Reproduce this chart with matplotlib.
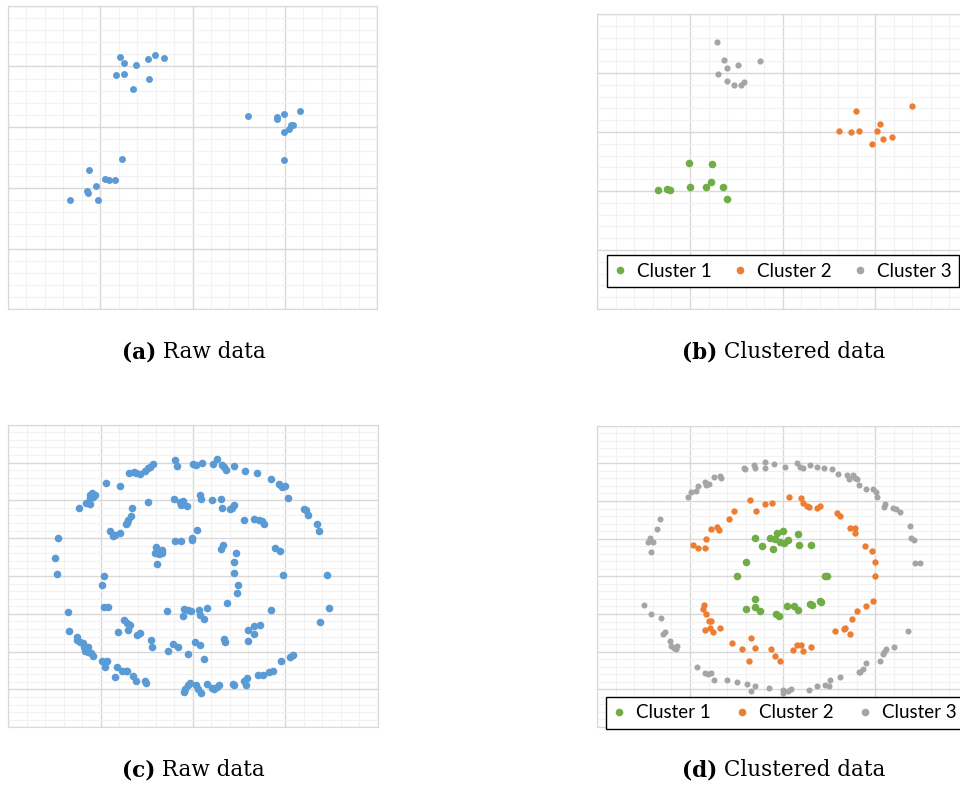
import numpy as np
import matplotlib.pyplot as plt
from matplotlib.lines import Line2D
from matplotlib.ticker import MultipleLocator

BLUE = '#5B9BD5'
GREEN = '#70AD47'
ORANGE = '#ED7D31'
GRAY = '#A5A5A5'

# (a) raw data, three blobs
a_x = [1.21, 1.26, 1.39, 1.52, 1.59, 1.69, 1.17, 1.26, 1.53, 1.35,
       2.60, 2.92, 2.92, 2.99, 3.16, 2.99, 3.05, 3.07, 3.09, 2.99,
       1.24, 0.88, 1.05, 1.10, 1.16, 0.95, 0.86, 0.87, 0.67, 0.98]
a_y = [4.15, 4.06, 4.02, 4.12, 4.19, 4.14, 3.86, 3.87, 3.80, 3.62,
       3.18, 3.17, 3.14, 3.22, 3.26, 2.92, 2.97, 3.03, 3.04, 2.46,
       2.48, 2.29, 2.14, 2.13, 2.13, 2.03, 1.95, 1.91, 1.80, 1.80]

# (b) clustered blobs
b1_x = [0.99, 1.24, 0.66, 0.75, 0.78, 1.00, 1.17, 1.23, 1.36, 1.40]
b1_y = [2.47, 2.45, 2.01, 2.03, 2.01, 2.07, 2.07, 2.16, 2.07, 1.86]
b2_x = [2.79, 3.40, 2.61, 2.74, 2.82, 3.02, 3.05, 3.08, 3.18, 2.96]
b2_y = [3.35, 3.44, 3.01, 3.00, 3.02, 3.02, 3.14, 2.88, 2.91, 2.80]
b3_x = [1.29, 1.37, 1.40, 1.52, 1.76, 1.30, 1.40, 1.48, 1.55, 1.58]
b3_y = [4.52, 4.22, 4.08, 4.13, 4.21, 3.98, 3.87, 3.79, 3.79, 3.85]

# (c) raw data, three rings
c_outer_x = [1.31, 1.36, 1.38, 1.43, 1.48, 1.51, 1.54, 1.57, 1.81, 1.83, 2.00, 2.03, 2.10,
             2.22, 2.26, 2.31, 2.34, 2.36, 2.44, 2.56, 2.69, 2.84, 2.93, 2.96, 3.00, 3.03,
             3.20, 3.22, 3.25, 3.34, 3.37,
             1.06, 1.21, 0.88, 0.91, 0.94, 0.89, 0.92, 0.86, 0.88, 0.84, 0.77, 0.54, 0.51, 0.53,
             3.45, 3.47, 3.38, 3.05, 3.08, 2.95,
             2.87, 2.82, 2.76, 2.70, 2.59, 2.55, 2.57, 2.44, 2.43, 2.28, 2.26, 2.23, 2.21, 2.15,
             2.09, 2.06, 2.03, 1.97, 1.95, 1.91, 1.90,
             0.65, 0.66, 0.74, 0.74, 0.78, 0.81, 0.82, 0.86, 0.83, 0.86, 0.90, 0.92, 1.02, 1.07,
             1.05, 1.18, 1.16, 1.23, 1.27, 1.29, 1.35, 1.38, 1.48, 1.49]
c_outer_y = [6.73, 6.76, 6.71, 6.70, 6.78, 6.85, 6.89, 6.95, 7.07, 6.90, 6.96, 6.94, 6.98,
             6.95, 7.10, 6.94, 6.89, 6.81, 6.90, 6.78, 6.73, 6.56, 6.43, 6.36, 6.37, 6.07,
             5.76, 5.74, 5.62, 5.37, 5.18,
             6.47, 6.38, 6.15, 6.19, 6.14, 6.06, 6.10, 5.94, 5.90, 5.92, 5.80, 5.00, 4.48, 4.04,
             4.03, 3.16, 2.78, 1.85, 1.91, 1.76,
             1.50, 1.45, 1.38, 1.39, 1.30, 1.23, 1.13, 1.11, 1.15, 1.11, 1.06, 1.01, 1.04, 1.15,
             0.92, 1.01, 1.13, 1.16, 1.13, 1.01, 0.93,
             3.06, 2.54, 2.39, 2.31, 2.26, 2.23, 2.13, 2.11, 2.03, 1.99, 1.96, 1.89, 1.76, 1.74,
             1.60, 1.60, 1.34, 1.50, 1.48, 1.48, 1.35, 1.23, 1.23, 1.17]
c_mid_x = [1.51, 1.34, 1.33, 1.30, 1.27, 1.29, 1.10, 1.13, 1.16, 1.21,
           1.80, 1.86, 1.89, 1.87, 1.94, 2.08, 2.09, 2.21, 2.30, 2.31, 2.40, 2.44, 2.42,
           2.55, 2.66, 2.71, 2.75, 2.77, 2.89, 2.94, 2.98, 2.85,
           1.04, 1.08, 1.01, 1.04,
           1.19, 1.25, 1.29, 1.32, 1.30, 1.39, 1.43, 1.55, 1.56, 1.73, 1.78, 1.84, 1.95,
           2.02, 2.08, 2.12, 2.34, 2.35, 2.60, 2.66, 2.73, 2.66, 2.60]
c_mid_y = [5.95, 5.79, 5.59, 5.48, 5.37, 5.41, 5.20, 5.05, 5.08, 5.14,
           6.03, 5.96, 5.97, 5.89, 5.84, 6.13, 6.04, 6.02, 6.04, 5.80, 5.78, 5.87, 5.80,
           5.48, 5.52, 5.48, 5.45, 5.37, 4.75, 4.65, 4.03, 3.11,
           3.18, 3.17, 3.75, 4.00,
           2.53, 2.84, 2.75, 2.70, 2.57, 2.45, 2.48, 2.32, 2.11, 2.03, 2.19, 2.13, 1.93,
           2.25, 2.17, 1.80, 2.34, 2.26, 2.57, 2.69, 2.71, 2.46, 2.27]
c_inner_x = [1.60, 1.66, 1.59, 1.63, 1.66, 1.61, 1.81, 1.87, 1.99, 1.99, 2.04,
             2.30, 2.33, 2.47, 2.45, 2.45, 2.49, 2.48, 2.37, 2.15, 2.07, 2.08, 2.12,
             1.72, 1.90, 1.95, 1.98, 1.89]
c_inner_y = [4.76, 4.70, 4.62, 4.58, 4.60, 4.33, 4.93, 4.92, 5.01, 4.96, 5.21,
             4.72, 4.83, 4.62, 4.38, 4.09, 3.75, 3.54, 3.29, 3.16, 3.10, 2.98, 2.86,
             3.08, 3.14, 3.10, 3.08, 2.93]

# (d) clustered rings
d1_x = [1.70, 1.86, 1.94, 1.92, 1.78, 1.90, 1.60, 1.51,
        2.00, 1.97, 2.01, 2.06, 2.17, 2.18, 2.31, 2.48, 2.46,
        1.70, 1.70, 1.60, 1.76, 1.93, 1.96,
        2.05, 2.12, 2.17, 2.30, 2.32, 2.40, 2.41]
d1_y = [5.01, 5.01, 5.14, 4.99, 4.81, 4.72, 4.38, 4.02,
        5.20, 4.92, 4.88, 4.97, 5.12, 4.84, 4.82, 4.02, 4.02,
        3.39, 3.19, 3.12, 3.08, 2.99, 2.96,
        3.20, 3.22, 3.10, 3.27, 3.25, 3.35, 3.33]
d2_x = [1.65, 1.81, 1.88, 1.71, 1.48, 1.42, 1.23, 1.29, 1.31, 1.17, 1.03, 1.09, 1.16,
        2.07, 2.20, 2.22, 2.26, 2.28, 2.37, 2.40, 2.59, 2.62, 2.73, 2.78, 2.78, 2.89,
        2.96, 3.00, 3.00,
        1.15, 1.14, 1.17, 1.20, 1.23, 1.22, 1.25, 1.16, 1.32, 1.45, 1.56, 1.66, 1.70,
        1.64, 1.87, 1.92, 1.97,
        2.98, 2.90, 2.80, 2.75, 2.56, 2.66, 2.67, 2.73, 2.11, 2.15, 2.20, 2.22, 2.31]
d2_y = [6.04, 5.92, 5.95, 5.73, 5.73, 5.52, 5.27, 5.32, 5.24, 5.00, 4.84, 4.76, 4.76,
        6.10, 6.09, 5.96, 5.87, 5.84, 5.81, 5.87, 5.68, 5.61, 5.28, 5.28, 5.14, 4.81,
        4.67, 4.37, 4.02,
        3.24, 3.12, 2.99, 2.82, 2.82, 2.64, 2.53, 2.58, 2.62, 2.24, 2.07, 2.35, 2.09,
        1.76, 2.08, 1.89, 1.76,
        3.35, 3.21, 3.07, 2.88, 2.56, 2.61, 2.64, 2.47, 2.04, 2.18, 2.18, 2.03, 2.12]
d3_x = [1.58, 1.59, 1.69, 1.70, 1.81, 1.81, 1.91, 1.26, 1.32, 1.34, 1.20, 1.16, 1.17,
        1.09, 1.06, 1.01, 0.98, 0.68, 0.64, 0.57, 0.55, 0.60, 0.58,
        2.03, 2.15, 2.19, 2.22, 2.30, 2.37, 2.45, 2.53, 2.60, 2.69, 2.72, 2.76, 2.78,
        2.80, 2.82, 2.90, 2.97, 3.01, 3.02, 3.10, 3.09, 3.19, 3.22, 3.27, 3.37, 3.38,
        3.42, 3.43, 3.48,
        0.50, 0.58, 0.69, 0.71, 0.73, 0.78, 0.79, 0.83, 0.86, 0.85, 1.08, 1.16, 1.19,
        1.23, 1.26, 1.40, 1.51, 1.61, 1.70, 1.66, 1.85,
        3.35, 3.20, 3.11, 3.09, 3.08, 3.05, 2.90, 2.87, 2.84, 2.82, 2.62, 2.51, 2.50,
        2.46, 2.37, 2.28, 2.09, 2.06, 2.00, 2.00]
d3_y = [6.89, 6.86, 6.96, 6.89, 7.03, 6.89, 6.98, 6.65, 6.67, 6.60, 6.45, 6.50, 6.42,
        6.40, 6.26, 6.25, 6.12, 5.52, 5.26, 5.01, 4.90, 4.92, 4.65,
        6.90, 7.00, 6.91, 6.89, 6.96, 6.91, 6.88, 6.85, 6.72, 6.68, 6.58, 6.70, 6.62,
        6.58, 6.42, 6.33, 6.33, 6.25, 6.11, 5.93, 5.85, 5.82, 5.78, 5.70, 5.34, 5.03,
        4.97, 4.35, 4.36,
        3.25, 3.00, 2.90, 2.48, 2.53, 2.28, 2.15, 2.10, 2.14, 2.07, 1.58, 1.44, 1.41,
        1.44, 1.26, 1.26, 1.19, 1.14, 1.09, 0.96, 1.04,
        2.55, 2.12, 2.07, 1.98, 1.93, 1.74, 1.70, 1.54, 1.47, 1.45, 1.33, 1.26, 1.09,
        1.11, 1.10, 0.99, 1.00, 0.96, 0.99, 0.89]

labels = ['Cluster 1', 'Cluster 2', 'Cluster 3']


def setup(ax, ymax):
    ax.set_xlim(0, 4)
    ax.set_ylim(0, ymax)
    ax.xaxis.set_major_locator(MultipleLocator(1))
    ax.xaxis.set_minor_locator(MultipleLocator(0.2))
    ax.yaxis.set_major_locator(MultipleLocator(1))
    ax.yaxis.set_minor_locator(MultipleLocator(0.2))
    ax.grid(which='minor', color='#F2F2F2', lw=0.8)
    ax.grid(which='major', color='#D9D9D9', lw=1.0)
    ax.tick_params(which='both', length=0, labelbottom=False, labelleft=False)
    for s in ax.spines.values():
        s.set_color('#D9D9D9')
    ax.set_axisbelow(True)


def add_legend(ax, top, left, width):
    handles = [Line2D([], [], ls='', marker='o', color=c, markersize=4.5)
               for c in (GREEN, ORANGE, GRAY)]
    leg = ax.legend(handles, labels, loc='upper left', bbox_to_anchor=(left, 0, width, top),
                    mode='expand', ncol=3, fancybox=False, edgecolor='black', framealpha=1,
                    handlelength=0.6, handletextpad=0.6, borderpad=0.4, borderaxespad=0,
                    columnspacing=1.0, prop={'family': 'Lato', 'size': 13.5})
    leg.get_frame().set_linewidth(1.0)


fig = plt.figure(figsize=(9.6, 7.85), dpi=100)
W, H = 960, 785

ax_a = fig.add_axes([8 / W, 1 - 309.3 / H, 369 / W, 303.6 / H])
ax_b = fig.add_axes([597.3 / W, 1 - 309 / H, 370.7 / W, 295 / H])
ax_c = fig.add_axes([8.3 / W, 1 - 727.3 / H, 369.3 / W, 302.6 / H])
ax_d = fig.add_axes([597.3 / W, 1 - 727 / H, 370.7 / W, 301.3 / H])

setup(ax_a, 5)
setup(ax_b, 5)
setup(ax_c, 8)
setup(ax_d, 8)

ax_a.scatter(a_x, a_y, s=25, color=BLUE, linewidths=0)

ax_b.scatter(b1_x, b1_y, s=30, color=GREEN, linewidths=0)
ax_b.scatter(b2_x, b2_y, s=21, color=ORANGE, linewidths=0)
ax_b.scatter(b3_x, b3_y, s=20, color=GRAY, linewidths=0)
add_legend(ax_b, 0.183, 0.026, 0.95)

ax_c.scatter(c_outer_x + c_mid_x + c_inner_x, c_outer_y + c_mid_y + c_inner_y,
             s=30, color=BLUE, linewidths=0)

ax_d.scatter(d1_x, d1_y, s=30, color=GREEN, linewidths=0)
ax_d.scatter(d2_x, d2_y, s=21, color=ORANGE, linewidths=0)
ax_d.scatter(d3_x, d3_y, s=19, color=GRAY, linewidths=0)
add_legend(ax_d, 0.0996, 0.0235, 0.965)

# captions: bold label + regular text, centred as a pair
caps = [('(a)', 'Raw data', 193.5, 352), ('(b)', 'Clustered data', 783.5, 352),
        ('(c)', 'Raw data', 193.5, 770), ('(d)', 'Clustered data', 783.5, 770)]
pairs = []
for lab, txt, xc, yc in caps:
    t1 = fig.text(0, 1 - yc / H, lab, fontfamily='DejaVu Serif', fontweight='bold',
                  fontsize=15.5, va='center')
    t2 = fig.text(0, 1 - yc / H, ' ' + txt, fontfamily='DejaVu Serif',
                  fontsize=15.5, va='center')
    pairs.append((t1, t2, xc))

fig.canvas.draw()
r = fig.canvas.get_renderer()
for t1, t2, xc in pairs:
    w1 = t1.get_window_extent(r).width
    w2 = t2.get_window_extent(r).width
    x0 = xc - (w1 + w2) / 2
    t1.set_x(x0 / W)
    t2.set_x((x0 + w1) / W)

fig.savefig('out.png', dpi=100)
